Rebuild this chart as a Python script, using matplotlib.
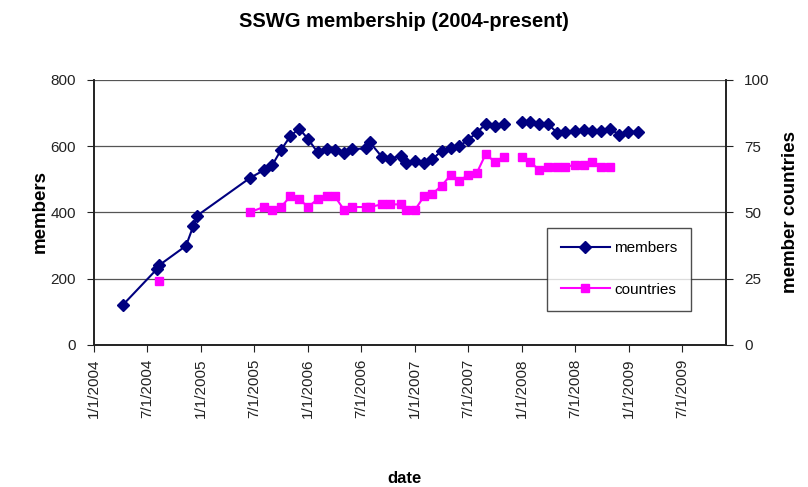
import numpy as np
import pandas as pd
import matplotlib
matplotlib.use('Agg')
import matplotlib.pyplot as plt
import matplotlib.dates as mdates

plt.rcParams['font.family'] = ['Liberation Sans', 'DejaVu Sans']

dates = [
    '2004-04-09', '2004-08-03', '2004-08-11', '2004-11-11', '2004-12-06',
    '2004-12-19', '2005-06-16', '2005-08-03', '2005-09-01', '2005-10-01',
    '2005-11-02', '2005-12-02', '2006-01-02', '2006-02-03', '2006-03-07',
    '2006-04-03', '2006-05-04', '2006-06-02', '2006-07-17', '2006-07-31',
    '2006-09-10', '2006-10-08', '2006-11-15', '2006-12-01', '2007-01-02',
    '2007-02-01', '2007-03-02', '2007-04-02', '2007-05-03', '2007-06-01',
    '2007-07-02', '2007-08-01', '2007-08-31', '2007-10-01', '2007-10-31',
    '2007-12-01', '2008-01-01', '2008-01-30', '2008-02-29', '2008-03-30',
    '2008-04-30', '2008-05-29', '2008-06-29', '2008-07-30', '2008-08-29',
    '2008-09-29', '2008-10-29', '2008-11-29', '2008-12-30', '2009-01-30',
]
nan = np.nan
members = [
    120, 228, 240, 299, 359,
    390, 503, 527, 542, 588,
    630, 653, 621, 581, 591,
    587, 579, 591, 593, 612,
    568, 562, 571, 550, 556,
    548, 560, 586, 593, 599,
    619, 641, 667, 661, 666,
    nan, 672, 674, 667, 667,
    641, 644, 645, 648, 647,
    647, 651, 635, 644, 643,
]
countries = [
    nan, nan, 24, nan, nan,
    nan, 50, 52, 51, 52,
    56, 55, 52, 55, 56,
    56, 51, 52, 52, 52,
    53, 53, 53, 51, 51,
    56, 57, 60, 64, 62,
    64, 65, 72, 69, 71,
    nan, 71, 69, 66, 67,
    67, 67, 68, 68, 69,
    67, 67, nan, nan, nan,
]

x = pd.to_datetime(dates)

fig = plt.figure(figsize=(8.08, 4.87), dpi=100)
ax = fig.add_axes([0.116, 0.292, 0.7825, 0.544])
ax2 = ax.twinx()

ln1, = ax.plot(x, members, color='#000080', marker='D', markersize=6.5,
               linewidth=1.5, label='members', zorder=3)
ln2, = ax2.plot(x, countries, color='#FF00FF', marker='s', markersize=5.5,
                linewidth=1.5, label='countries', zorder=3)

ax.set_ylim(0, 800)
ax.set_yticks([0, 200, 400, 600, 800])
ax2.set_ylim(0, 100)
ax2.set_yticks([0, 25, 50, 75, 100])

ax.set_xlim(pd.Timestamp('2004-01-01'), pd.Timestamp('2009-11-28'))
ax.xaxis.set_major_locator(mdates.MonthLocator(bymonth=[1, 7]))
ax.xaxis.set_major_formatter(
    plt.FuncFormatter(lambda v, p: '%d/1/%d' % (mdates.num2date(v).month, mdates.num2date(v).year)))
plt.setp(ax.get_xticklabels(), rotation=90)

ax.grid(True, axis='y', color='#555555', linewidth=0.9)
ax.set_axisbelow(True)
for a in (ax, ax2):
    a.spines['top'].set_visible(False)
    for s in ('left', 'right', 'bottom'):
        a.spines[s].set_color('#222222')
        a.spines[s].set_linewidth(1.2)
    a.tick_params(direction='out', length=5, colors='#222222', labelsize=11)
ax.tick_params(axis='x', pad=5)
ax.tick_params(axis='y', pad=8)
ax2.tick_params(axis='y', pad=8)

fig.text(0.5, 0.955, 'SSWG membership (2004-present)', ha='center', va='center',
         fontsize=14.5, fontweight='bold')
fig.text(0.05, 0.565, 'members', rotation=90, ha='center', va='center',
         fontsize=13.5, fontweight='bold')
fig.text(0.978, 0.565, 'member countries', rotation=90, ha='center', va='center',
         fontsize=13.5, fontweight='bold')
fig.text(0.5, 0.018, 'date', ha='center', va='center',
         fontsize=12, fontweight='bold')

leg = fig.legend(handles=[ln1, ln2], loc='center',
                 bbox_to_anchor=(619 / 808, 1 - 269 / 487),
                 frameon=True, fancybox=False, edgecolor='#222222',
                 fontsize=11, labelspacing=1.8, handlelength=3.2,
                 borderpad=0.9, handletextpad=0.3)
leg.get_frame().set_linewidth(1.0)

fig.savefig('out.png', dpi=100)
